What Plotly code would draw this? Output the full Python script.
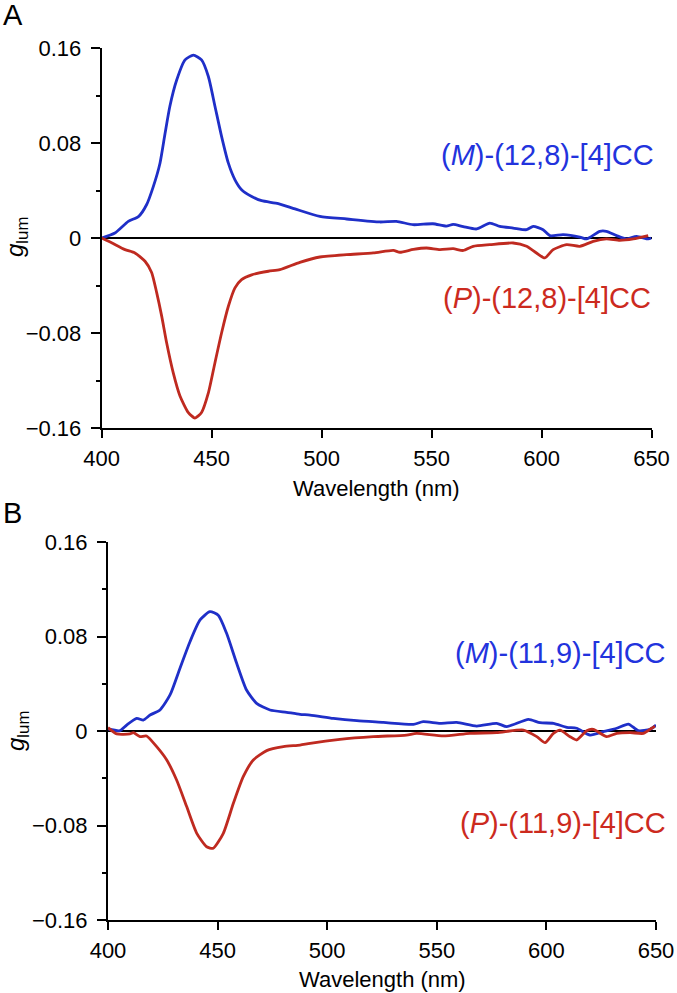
import plotly.graph_objects as go

# ---------------- data ----------------
# Panel A
a_m_wl = [400, 406, 412.1, 416.7, 420.4, 423.5, 426.5, 428.8, 431.0, 434.1, 437.9, 441.7, 445.4,
          448.5, 451.5, 454.5, 457.6, 460.6, 463.6, 468.2, 472.7, 480.3, 487.9, 499.2, 511.4,
          526.5, 534, 541.6, 550.6, 556.7, 559.8, 564.4, 570.5, 576.5, 581, 587.1, 593.2, 596.2,
          600.7, 603.8, 609.8, 617.4, 620.5, 626.5, 629.5, 634.1, 638.6, 643.2, 648.5, 650]
a_m_g = [0, 0.0042, 0.014, 0.018, 0.028, 0.0435, 0.063, 0.088, 0.111, 0.133, 0.150, 0.154, 0.150,
         0.136, 0.111, 0.0856, 0.063, 0.049, 0.0407, 0.035, 0.0314, 0.029, 0.0245, 0.0182, 0.016,
         0.0135, 0.014, 0.0112, 0.012, 0.0100, 0.0115, 0.0096, 0.0076, 0.0126, 0.0098, 0.0084, 0.007,
         0.0098, 0.007, 0.002, 0.0028, 0.0008, -0.0008, 0.0056, 0.0056, 0.002, -0.0008, 0.0014,
         -0.0008, 0.0]

a_p_wl = [400, 404.5, 410.6, 415.1, 419.7, 422.7, 425, 427.3, 429.5, 432.6, 435.6, 439.4, 442.4,
          445.4, 448.5, 451.5, 454.5, 457.6, 460.6, 463.6, 468.2, 475.8, 481, 490.1, 499.2, 511.4,
          523.5, 532.6, 535.6, 541.7, 547.7, 553.8, 559.8, 564.4, 568.9, 576.5, 587.1, 593.2,
          597.7, 601.5, 605.3, 611.4, 617.4, 623.5, 629.5, 635.6, 641.7, 648.5]
a_p_g = [0, -0.004, -0.0098, -0.0126, -0.0196, -0.029, -0.046, -0.066, -0.088, -0.114, -0.133,
         -0.147, -0.1516, -0.147, -0.1305, -0.105, -0.080, -0.0575, -0.042, -0.035, -0.031, -0.028,
         -0.0267, -0.0205, -0.016, -0.014, -0.0126, -0.0104, -0.012, -0.0096, -0.0084, -0.0098,
         -0.009, -0.0105, -0.007, -0.0056, -0.0042, -0.007, -0.0126, -0.0168, -0.0098, -0.0056,
         -0.007, -0.0028, -0.0008, -0.002, -0.0008, 0.002]

# Panel B
b_m_wl = [400.1, 405.5, 408.5, 413.1, 416.1, 419.2, 423.7, 428.3, 432.8, 437.4, 442, 446.5, 450.3,
          454.1, 458.7, 463.2, 467.8, 473.9, 481.5, 487.6, 492.2, 502.8, 513.5, 525.6, 539.3, 543.8,
          551.5, 559.1, 568.2, 577.3, 581.9, 591.8, 597.1, 603.2, 609.3, 613.8, 619.9, 626, 632.1,
          637.4, 641.9, 647.3, 650]
b_m_g = [0.0017, 0.0003, 0.005, 0.0107, 0.0093, 0.0135, 0.0178, 0.0305, 0.053, 0.0756, 0.094, 0.101,
         0.098, 0.0827, 0.0573, 0.0347, 0.0234, 0.0178, 0.0158, 0.0141, 0.0135, 0.0107, 0.0087,
         0.0073, 0.0056, 0.0079, 0.0065, 0.0073, 0.0042, 0.0065, 0.0037, 0.0099, 0.007, 0.0065,
         0.0031, 0.0023, -0.0034, -0.0006, 0.0023, 0.0059, 0.0003, 0.0014, 0.005]

b_p_wl = [400, 404, 410, 411.6, 414.6, 417.6, 422.2, 426.8, 431.3, 435.9, 440.5, 445, 448, 452.6,
          457.2, 461.7, 466.3, 472.4, 480, 487.6, 492.2, 505.8, 521, 536.2, 540.8, 553, 565.1, 577.3,
          589.5, 595.6, 599.4, 603.2, 606.2, 610.8, 613.8, 618.4, 621.4, 627.5, 632.1, 638.2, 644.3,
          648, 649.5]
b_p_g = [0.0028, -0.0025, -0.0025, -0.0014, -0.0048, -0.0042, -0.0133, -0.0246, -0.0415, -0.064,
         -0.0866, -0.098, -0.0993, -0.0866, -0.0612, -0.0387, -0.0246, -0.0166, -0.0133, -0.0119,
         -0.0104, -0.0071, -0.0048, -0.0034, -0.002, -0.0042, -0.002, -0.0014, 0.0008, -0.0048,
         -0.0099, -0.002, 0.0008, -0.0048, -0.0076, 0.0003, 0.0014, -0.0048, -0.002, -0.0014,
         -0.002, 0.0023, 0.0042]

x_ticks = [400, 450, 500, 550, 600, 650]
y_ticks = [0.16, 0.08, 0, -0.08, -0.16]
y_ticktext = ["0.16", "0.08", "0", "\u22120.08", "\u22120.16"]
y_minor = [0.12, 0.04, -0.04, -0.12]

BLUE = "#1f2fc8"
RED = "#bf2a20"
FONT = "Liberation Sans, Arial, Helvetica, sans-serif"

W, H = 677, 993


def px(x):
    return x / W


def py(y):
    return 1 - y / H


fig = go.Figure()
for wl, g, col, xa, ya in [(a_m_wl, a_m_g, BLUE, "x", "y"), (a_p_wl, a_p_g, RED, "x", "y"),
                           (b_m_wl, b_m_g, BLUE, "x2", "y2"), (b_p_wl, b_p_g, RED, "x2", "y2")]:
    fig.add_trace(go.Scatter(x=wl, y=g, mode="lines",
                             line=dict(color=col, width=2.8, shape="spline", smoothing=0.6),
                             xaxis=xa, yaxis=ya, hoverinfo="skip"))


def xax(x0, x1, anchor):
    return dict(domain=[px(x0), px(x1)], range=[400, 650], anchor=anchor, automargin=False,
                tickmode="array", tickvals=x_ticks, ticks="outside", ticklen=8, tickwidth=1.6,
                tickcolor="black", showline=True, linecolor="black", linewidth=2,
                showgrid=False, zeroline=False, tickfont=dict(family=FONT, size=22, color="black"),
                ticklabelstandoff=2)


def yax(y_top, y_bot, anchor):
    return dict(domain=[py(y_bot), py(y_top)], range=[-0.16, 0.16], anchor=anchor,
                automargin=False,
                tickmode="array", tickvals=y_ticks, ticktext=y_ticktext, ticks="outside",
                ticklen=9, tickwidth=1.6, tickcolor="black", showline=True, linecolor="black",
                linewidth=2, showgrid=False, zeroline=True, zerolinecolor="black", zerolinewidth=1.6,
                tickfont=dict(family=FONT, size=22, color="black"), ticklabelstandoff=5,
                minor=dict(tickvals=y_minor, ticks="outside", ticklen=4, tickwidth=1.6,
                           tickcolor="black", showgrid=False))


def ann(text, x, y, size, color="black", xanchor="center", angle=0):
    return dict(text=text, x=px(x), y=py(y), xref="paper", yref="paper", showarrow=False,
                textangle=angle, font=dict(family=FONT, size=size, color=color),
                xanchor=xanchor, yanchor="middle")


annotations = [
    ann("A", 13, 15, 29),
    ann("B", 12, 513, 29),
    ann("<i>g</i><sub>lum</sub>", 16, 237, 24, angle=-90),
    ann("<i>g</i><sub>lum</sub>", 17, 731, 24, angle=-90),
    ann("Wavelength (nm)", 376.5, 488, 22),
    ann("Wavelength (nm)", 382, 979, 22),
    ann("(<i>M</i>)-(12,8)-[4]CC", 656, 155, 29, "#2233dd", "right"),
    ann("(<i>P</i>)-(12,8)-[4]CC", 653, 298, 29, "#cc2a1e", "right"),
    ann("(<i>M</i>)-(11,9)-[4]CC", 668, 653, 29, "#2233dd", "right"),
    ann("(<i>P</i>)-(11,9)-[4]CC", 668, 823, 29, "#cc2a1e", "right"),
]

fig.update_layout(
    width=W, height=H, margin=dict(l=0, r=0, t=0, b=0, autoexpand=False),
    paper_bgcolor="white", plot_bgcolor="white", showlegend=False,
    xaxis=xax(101.7, 651.5, "y"), yaxis=yax(48, 428, "x"),
    xaxis2=xax(108, 656, "y2"), yaxis2=yax(542, 920, "x2"),
    annotations=annotations,
)

fig.write_html("out.html", config={"displayModeBar": False},
               post_script="document.body.style.margin='0';document.body.style.overflow='hidden';")
